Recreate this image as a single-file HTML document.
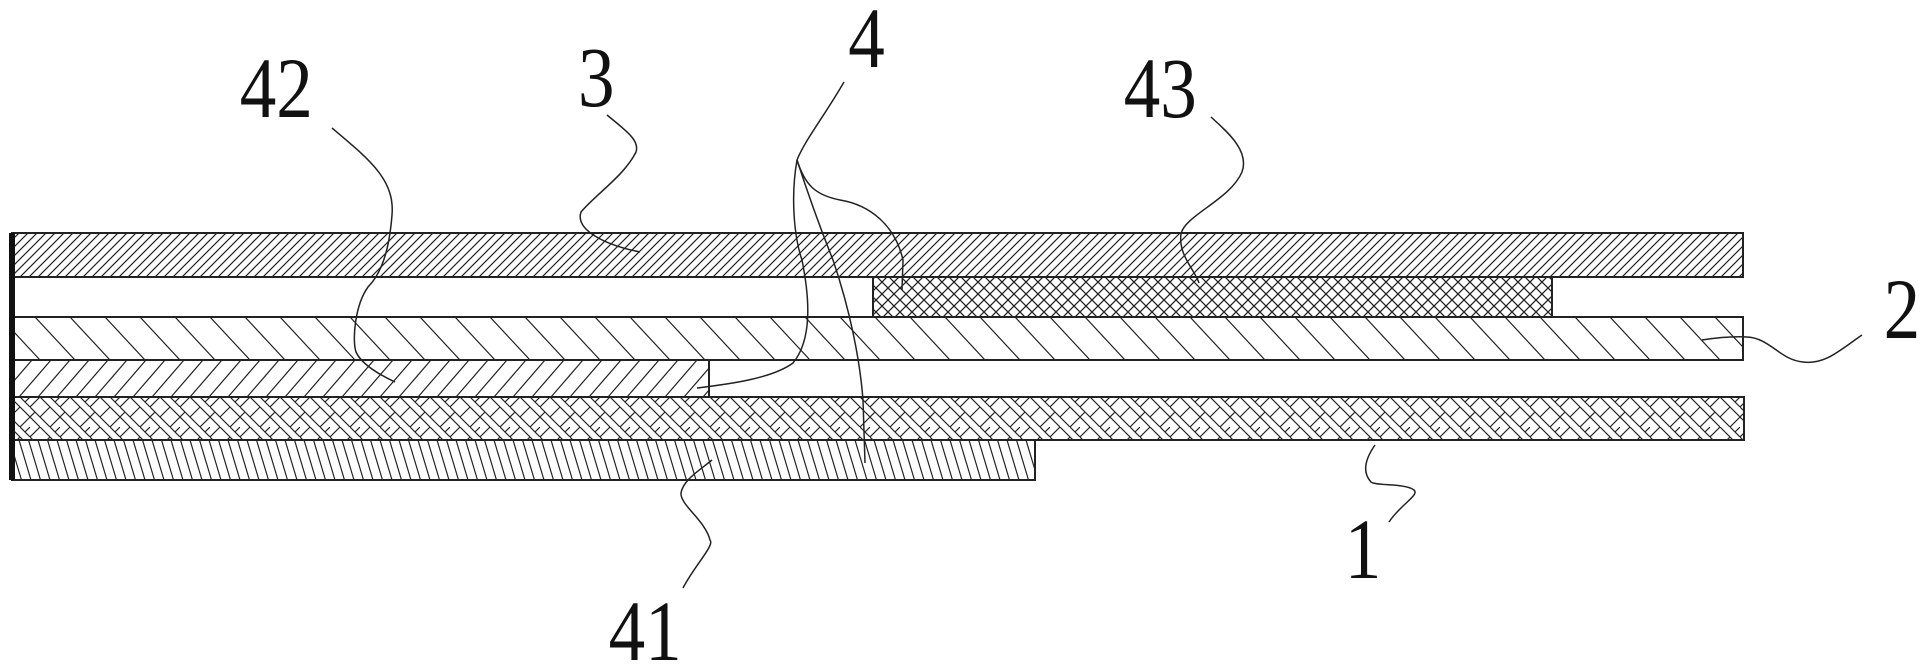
<!DOCTYPE html>
<html><head><meta charset="utf-8"><style>
html,body{margin:0;padding:0;background:#fff;}
svg{display:block;}
text{font-family:"Liberation Serif",serif;font-size:86px;fill:#111;}
</style></head><body>
<svg width="1928" height="670" viewBox="0 0 1928 670" xmlns="http://www.w3.org/2000/svg">
<defs>
<pattern id="p3" width="9" height="9" patternUnits="userSpaceOnUse"><path d="M-1,10 L10,-1 M-5,5 L5,-5 M4,14 L14,4" stroke="#222" stroke-width="1.2"/></pattern>
<pattern id="p2" width="35" height="43" patternUnits="userSpaceOnUse" y="317"><path d="M0,0 L40,43 M-35,0 L5,43" stroke="#222" stroke-width="1.2"/></pattern>
<pattern id="p42" width="19" height="37" patternUnits="userSpaceOnUse" y="360"><path d="M0,37 L32,0 M-19,37 L13,0 M19,37 L51,0" stroke="#222" stroke-width="1.2"/></pattern>
<pattern id="p41" width="9.5" height="40" patternUnits="userSpaceOnUse" y="440"><path d="M0,0 L12,40 M-9.5,0 L2.5,40 M9.5,0 L21.5,40" stroke="#222" stroke-width="1.2"/></pattern>
<pattern id="p43" width="12" height="12" patternUnits="userSpaceOnUse"><path d="M0,0 L12,12 M12,0 L0,12 M-6,6 L6,-6 M6,18 L18,6" stroke="#222" stroke-width="1.3"/></pattern>
<pattern id="pw" width="30" height="30" patternUnits="userSpaceOnUse" y="397"><path d="M0,10 L10,0 M10,20 L20,10 M20,30 L30,20 M10,0 L30,20 M0,10 L20,30 M0,20 L10,30 M20,0 L30,10 M-5,25 L5,15 M25,5 L35,-5" stroke="#222" stroke-width="1.2"/></pattern>
</defs>
<g stroke="#222" stroke-width="2">
<rect x="12" y="233" width="1731" height="44" fill="url(#p3)"/>
<rect x="873" y="277" width="679" height="40" fill="url(#p43)"/>
<rect x="12" y="317" width="1731" height="43" fill="url(#p2)"/>
<rect x="12" y="360" width="697" height="37" fill="url(#p42)"/>
<rect x="12" y="397" width="1732" height="43" fill="url(#pw)"/>
<rect x="12" y="440" width="1023" height="40" fill="url(#p41)"/>
</g>
<rect x="9" y="233" width="6" height="247" fill="#111"/>
<g fill="none" stroke="#222" stroke-width="1.5">
<path d="M332,128 C370,160 395,180 392,215 C390,240 385,270 368,287 C355,305 352,340 356,352 C362,365 380,375 395,382"/>
<path d="M607,115 C625,130 640,140 636,152 C625,175 595,195 581,212 C575,230 605,245 640,252"/>
<path d="M844,82 C825,115 805,140 797,160 C790,200 795,240 802,260 C810,300 812,340 793,363 C770,380 720,385 697,388"/>
<path d="M797,160 C810,200 825,240 833,260 C850,310 860,360 863,400 L865,463"/>
<path d="M797,160 C805,185 815,195 840,200 C870,205 895,225 903,260 L902,290"/>
<path d="M1211,117 C1225,130 1250,150 1242,172 C1230,200 1185,215 1181,234 C1178,255 1195,270 1199,283"/>
<path d="M1862,335 C1840,350 1825,365 1803,362 C1780,360 1770,338 1747,337 C1730,336 1715,338 1702,340"/>
<path d="M1389,522 C1400,505 1420,495 1414,490 C1405,483 1375,486 1371,482 C1360,470 1368,455 1375,445"/>
<path d="M683,588 C695,565 715,545 710,540 C705,520 680,505 681,493 C683,480 700,470 712,460"/>
</g>
<g transform="scale(0.85,1)">
<text x="282" y="117">42</text>
<text x="680" y="106">3</text>
<text x="998" y="67">4</text>
<text x="1322" y="117">43</text>
<text x="2216" y="338">2</text>
<text x="1582" y="578">1</text>
<text x="716" y="660">41</text>
</g>
</svg>
</body></html>
